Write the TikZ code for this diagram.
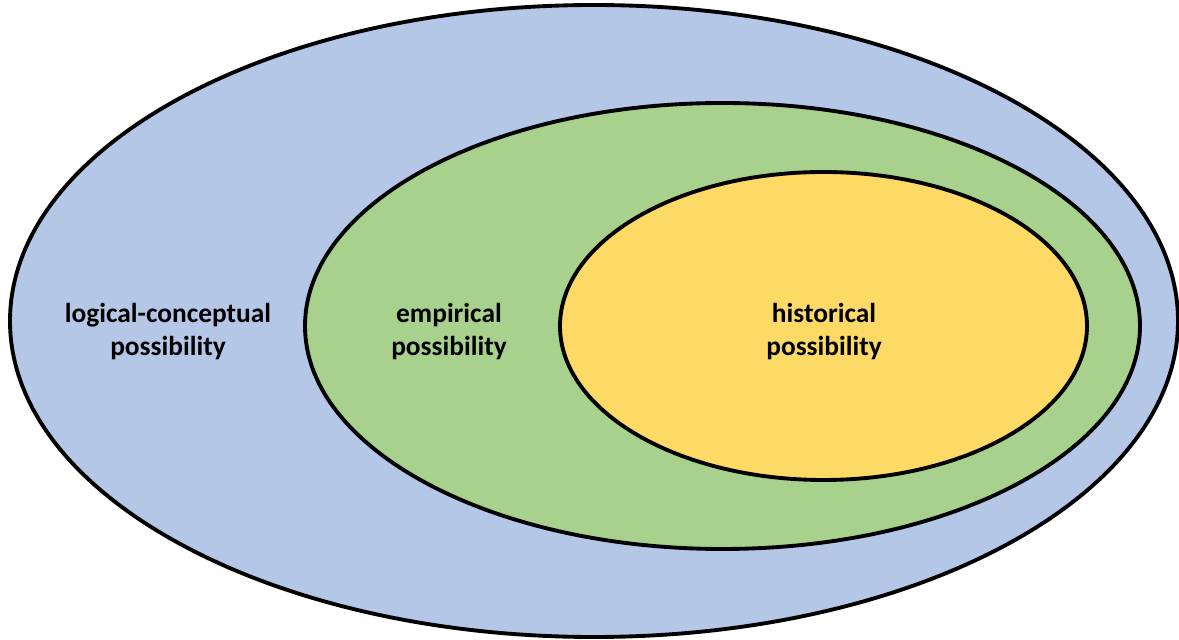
\documentclass[tikz,border=0pt]{standalone}
\usepackage{fontspec}
\setmainfont{Carlito}
\usetikzlibrary{shapes.geometric}

\definecolor{setblue}{HTML}{B4C7E7}
\definecolor{setgreen}{HTML}{A9D18E}
\definecolor{setyellow}{HTML}{FDD966}

\begin{document}
\begin{tikzpicture}
    \useasboundingbox (0,0) rectangle (23.58,-12.8);

    % Draw sets
    \node[ellipse, draw, line width=2.2pt, fill=setblue, minimum width=23.36cm, minimum height=12.64cm, outer sep=0pt] (logical) at (11.88,-6.42) {};
    \node[ellipse, draw, line width=2.2pt, fill=setgreen, minimum width=16.7cm, minimum height=8.92cm, outer sep=0pt] (empirical) at (14.45,-6.52) {};
    \node[ellipse, draw, line width=2.2pt, fill=setyellow, minimum width=10.54cm, minimum height=6.16cm, outer sep=0pt] (historical) at (16.47,-6.52) {};

    % Labels
    \node[align=center, font=\fontsize{15.6}{18.8}\selectfont\bfseries] (logicallabel) at (3.36,-6.64) {logical-conceptual\\possibility};
    \node[align=center, font=\fontsize{15.6}{18.8}\selectfont\bfseries] (empiricallabel) at (8.98,-6.64) {empirical\\possibility};
    \node[align=center, font=\fontsize{15.6}{18.8}\selectfont\bfseries] (historicallabel) at (16.48,-6.64) {historical\\possibility};
\end{tikzpicture}
\end{document}
